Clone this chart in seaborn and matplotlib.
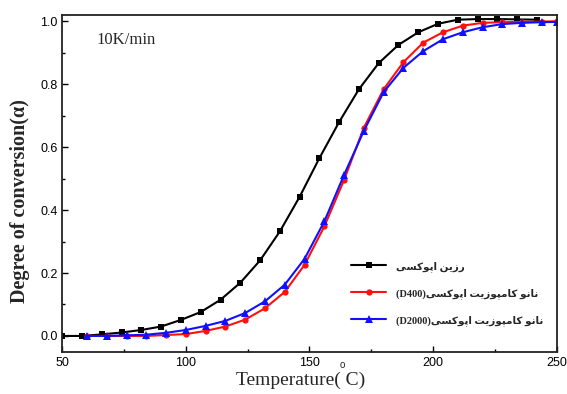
import numpy as np
import pandas as pd
import matplotlib
matplotlib.use("Agg")
import matplotlib.pyplot as plt
from matplotlib.ticker import MultipleLocator
import seaborn as sns

# data
temp_resin = [50, 58, 66, 74, 82, 90, 98, 106, 114, 122, 130, 138, 146, 154,
              162, 170, 178, 186, 194, 202, 210, 218, 226, 234, 242]
conv_resin = [0.0, 0.0, 0.005, 0.011, 0.019, 0.030, 0.051, 0.076, 0.115, 0.169,
              0.240, 0.332, 0.442, 0.565, 0.680, 0.784, 0.867, 0.925, 0.965,
              0.992, 1.005, 1.007, 1.007, 1.006, 1.005]

temp_nano = [60, 68, 76, 84, 92, 100, 108, 116, 124, 132, 140, 148, 156, 164,
             172, 180, 188, 196, 204, 212, 220, 228, 236, 244, 250]
conv_d400 = [0.0, 0.0, 0.0, 0.0, 0.003, 0.006, 0.016, 0.030, 0.052, 0.088,
             0.140, 0.226, 0.348, 0.496, 0.662, 0.784, 0.870, 0.932, 0.965,
             0.986, 0.995, 0.997, 0.998, 0.999, 1.0]
conv_d2000 = [0.0, 0.0, 0.002, 0.004, 0.010, 0.019, 0.032, 0.048, 0.073, 0.110,
              0.163, 0.245, 0.364, 0.512, 0.652, 0.775, 0.852, 0.905, 0.943,
              0.965, 0.981, 0.991, 0.995, 0.997, 0.998]

# Persian labels (logical order)
label_resin = "رزین اپوکسی"
label_nano = "نانو کامپوزیت اپوکسی"

# presentation forms: isolated, final, initial, medial
FORMS = {
    'ا': ('\uFE8D', '\uFE8E', None, None),
    'ر': ('\uFEAD', '\uFEAE', None, None),
    'ز': ('\uFEAF', '\uFEB0', None, None),
    'و': ('\uFEED', '\uFEEE', None, None),
    'ی': ('\uFBFC', '\uFBFD', '\uFBFE', '\uFBFF'),
    'ن': ('\uFEE5', '\uFEE6', '\uFEE7', '\uFEE8'),
    'پ': ('\uFB56', '\uFB57', '\uFB58', '\uFB59'),
    'ک': ('\uFB8E', '\uFB8F', '\uFB90', '\uFB91'),
    'س': ('\uFEB1', '\uFEB2', '\uFEB3', '\uFEB4'),
    'م': ('\uFEE1', '\uFEE2', '\uFEE3', '\uFEE4'),
    'ت': ('\uFE95', '\uFE96', '\uFE97', '\uFE98'),
}


def shape_rtl(text):
    """Join Persian letters and return them in visual (left-to-right) order."""
    out = []
    for i, ch in enumerate(text):
        if ch not in FORMS:
            out.append(ch)
            continue
        prev = text[i - 1] if i > 0 else None
        nxt = text[i + 1] if i + 1 < len(text) else None
        join_prev = prev in FORMS and FORMS[prev][2] is not None
        join_next = nxt in FORMS and FORMS[ch][2] is not None
        iso, fin, ini, med = FORMS[ch]
        if join_prev and join_next:
            out.append(med)
        elif join_prev:
            out.append(fin)
        elif join_next:
            out.append(ini)
        else:
            out.append(iso)
    return "".join(out)[::-1]


sns.set_style("ticks")
plt.rcParams['font.family'] = ['Liberation Sans', 'DejaVu Sans']

fig = plt.figure(figsize=(5.67, 3.94), dpi=100)
ax = fig.add_axes([0.1099, 0.1074, 0.8719, 0.8546])

sns.lineplot(x=temp_resin, y=conv_resin, ax=ax, color='black', marker='s',
             markersize=5, markeredgewidth=0, linewidth=1.5,
             label=shape_rtl(label_resin))
sns.lineplot(x=temp_nano, y=conv_d400, ax=ax, color='#ff1010', marker='o',
             markersize=4.5, markeredgewidth=0, linewidth=1.5,
             label="(D400)" + shape_rtl(label_nano))
sns.lineplot(x=temp_nano, y=conv_d2000, ax=ax, color='#1010ff', marker='^',
             markersize=6, markeredgewidth=0, linewidth=1.5,
             label="(D2000)" + shape_rtl(label_nano))

ax.set_xlim(50, 250)
ax.set_ylim(-0.05, 1.02)
ax.xaxis.set_major_locator(MultipleLocator(50))
ax.xaxis.set_minor_locator(MultipleLocator(25))
ax.yaxis.set_minor_locator(MultipleLocator(0.1))
ax.set_yticks(np.arange(0, 1.01, 0.2))
ax.set_yticklabels([f"{v:.1f}" for v in np.arange(0, 1.01, 0.2)])
ax.tick_params(which='both', direction='in', top=False, right=False,
               labelsize=9, colors='black')
ax.tick_params(which='major', length=4, width=1)
ax.tick_params(which='minor', length=2.5, width=1)

for side in ['top', 'bottom', 'left', 'right']:
    ax.spines[side].set_visible(True)
    ax.spines[side].set_linewidth(1.3)
    ax.spines[side].set_color('#222222')

ax.set_xlabel("Temperature( C)", family='Liberation Serif', fontsize=14)
ax.xaxis.set_label_coords(0.483, -0.058)
ax.set_ylabel("Degree of conversion(α)", family=['Liberation Serif', 'DejaVu Serif'],
              fontsize=14.5, fontweight='bold')
ax.yaxis.set_label_coords(-0.065, 0.448)
ax.text(0.567, -0.04, "o", transform=ax.transAxes, family='Liberation Sans',
        fontsize=7, ha='center', va='center')

ax.text(0.07, 0.925, "10K/min", transform=ax.transAxes,
        family='Liberation Serif', fontsize=12, ha='left', va='center')

leg = ax.legend(loc='upper left', bbox_to_anchor=(0.565, 0.297), frameon=False,
                handlelength=3.4, handletextpad=0.9, labelspacing=1.55,
                prop={'family': ['Liberation Serif', 'DejaVu Sans'],
                      'size': 7.5, 'weight': 'bold'})

fig.savefig("out.png", dpi=100, facecolor='white')
